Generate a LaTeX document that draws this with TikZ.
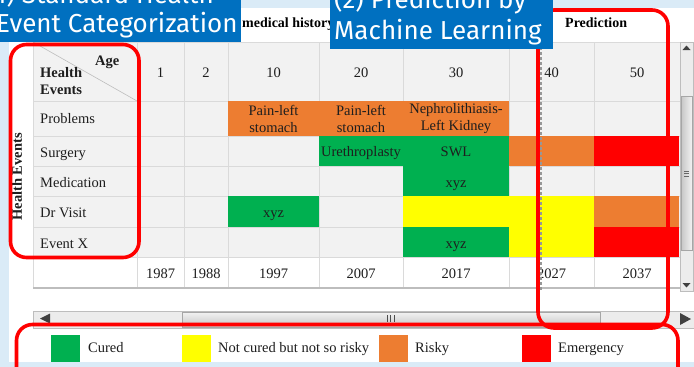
\documentclass[tikz,border=0pt]{standalone}
\usepackage{fontspec}
\setmainfont{Liberation Serif}
\newfontfamily\bannerfont{Fira Sans}
\definecolor{lightbg}{HTML}{DAEBF7}
\definecolor{bannerblue}{HTML}{0070C0}
\definecolor{cellbg}{HTML}{F2F2F2}
\definecolor{gridc}{HTML}{DADADA}
\definecolor{gridd}{HTML}{BDBDBD}
\definecolor{corange}{HTML}{ED7D31}
\definecolor{cgreen}{HTML}{00B050}
\definecolor{cyellow}{HTML}{FFFF00}
\definecolor{cred}{HTML}{FF0000}
\definecolor{hred}{HTML}{FF0000}
\definecolor{txt}{HTML}{1E1E1E}
\definecolor{sbtrack}{HTML}{ECECEC}
\definecolor{sbdark}{HTML}{404040}
\begin{document}
\begin{tikzpicture}[x=1pt,y=-1pt,
  tfont/.style={font=\fontsize{14.5}{17}\selectfont, text=txt, inner sep=0pt},
  celltxt/.style={tfont, align=center, anchor=center},
  onetxt/.style={tfont, anchor=base},
  lbl/.style={tfont, anchor=base west},
  hdr/.style={font=\bfseries\fontsize{14.5}{17}\selectfont, text=txt, inner sep=0pt, anchor=base west},
  hl/.style={draw=hred, line width=3.6pt, rounded corners=16pt},
  btxt/.style={font=\bannerfont\fontsize{26}{30}\selectfont, text=white, inner sep=0pt},
  legsq/.style={minimum width=29pt, minimum height=27pt, inner sep=0pt, anchor=north west},
  legtxt/.style={tfont, anchor=base west}
]
\useasboundingbox (0,0) rectangle (694,367);
\clip (0,0) rectangle (694,367);
% background and panel
\fill[lightbg] (0,0) rectangle (694,367);
\fill[white] (9,8) rectangle (694,362);
% table background
\fill[cellbg] (33,42) rectangle (680,257);
\fill[white] (33,257) rectangle (680,287);
% grid
\foreach \x in {33,137,184,228,319,403,509,594,680} \draw[gridc, line width=0.8pt] (\x,42) -- (\x,287);
\foreach \y in {42,101,136,166,196,227,257} \draw[gridc, line width=0.8pt] (33,\y) -- (680,\y);
\draw[gridd, line width=2pt] (33,288) -- (680,288);
\draw[gridd, line width=0.6pt] (33,42) -- (137,101);
% coloured cells
\fill[corange] (228,101) rectangle (319,136);
\fill[corange] (319,101) rectangle (403,136);
\fill[corange] (403,101) rectangle (509,136);
\fill[cgreen] (319,136) rectangle (403,166);
\fill[cgreen] (403,136) rectangle (509,166);
\fill[corange] (509,136) rectangle (594,166);
\fill[cred] (594,136) rectangle (679,166);
\fill[cgreen] (403,166) rectangle (509,196);
\fill[cgreen] (228,196) rectangle (319,227);
\fill[cyellow] (403,196) rectangle (509,227);
\fill[cyellow] (509,196) rectangle (594,227);
\fill[corange] (594,196) rectangle (679,227);
\fill[cgreen] (403,227) rectangle (509,257);
\fill[cyellow] (509,227) rectangle (594,257);
\fill[cred] (594,227) rectangle (679,257);
% header texts
\node[hdr] (age) at (95,65) {Age};
\node[hdr] (hh) at (40,77) {Health};
\node[hdr] (he) at (40,94) {Events};
\node[onetxt] (a1) at (160.5,77) {1};
\node[onetxt] (a2) at (206,77) {2};
\node[onetxt] (a10) at (273.5,77) {10};
\node[onetxt] (a20) at (361,77) {20};
\node[onetxt] (a30) at (456,77) {30};
\node[onetxt] (a40) at (551.5,77) {40};
\node[onetxt] (a50) at (637,77) {50};
% row labels
\node[lbl] (rp) at (40,123) {Problems};
\node[lbl] (rs) at (40,157) {Surgery};
\node[lbl] (rm) at (40,187) {Medication};
\node[lbl] (rd) at (40,217) {Dr Visit};
\node[lbl] (re) at (40,248) {Event X};
\node[font=\bfseries\fontsize{14.5}{17}\selectfont, text=txt, inner sep=0pt, rotate=90] (hev) at (17,177) {Health Events};
% cell texts
\node[celltxt] (c1) at (273.5,119) {Pain-left\\stomach};
\node[celltxt] (c2) at (361,119) {Pain-left\\stomach};
\node[celltxt] (c3) at (456,119) {Nephrolithiasis-\\Left Kidney};
\node[onetxt] (c4) at (361,156) {Urethroplasty};
\node[onetxt] (c5) at (456,156) {SWL};
\node[onetxt] (c6) at (456,187) {xyz};
\node[onetxt] (c7) at (273.5,217) {xyz};
\node[onetxt] (c8) at (456,248) {xyz};
% years
\node[onetxt] (y1) at (160.5,278) {1987};
\node[onetxt] (y2) at (206,278) {1988};
\node[onetxt] (y3) at (273.5,278) {1997};
\node[onetxt] (y4) at (361,278) {2007};
\node[onetxt] (y5) at (456,278) {2017};
\node[onetxt] (y6) at (551.5,278) {2027};
\node[onetxt] (y7) at (637,278) {2037};
% dashed separator
\draw[gridd!80!black, line width=1.6pt, dash pattern=on 3pt off 2pt] (541,42) -- (541,290);
% vertical scrollbar
\filldraw[fill=sbtrack, draw=gridd, line width=0.6pt] (680,42) rectangle (693,291);
\fill[sbdark] (682.5,50) -- (690.5,50) -- (686.5,45.5) -- cycle;
\shade[left color=gray!45, right color=gray!10, draw=gray!70] (681,96) rectangle (692,250);
\foreach \y in {171,173.5,176} \draw[gray!80!black, line width=0.6pt] (684,\y) -- (689,\y);
\fill[sbdark] (682.5,283) -- (690.5,283) -- (686.5,287.5) -- cycle;
% horizontal scrollbar
\filldraw[fill=sbtrack, draw=gridd, line width=0.6pt] (33,311) rectangle (694,328);
\fill[sbdark] (50,313.5) -- (50,323.5) -- (40,318.5) -- cycle;
\shade[top color=gray!10, bottom color=gray!45, draw=gray!70] (182,312) rectangle (600,327);
\foreach \x in {387,390.5,394} \draw[gray!60!black, line width=1pt] (\x,315) -- (\x,322);
\fill[sbdark] (680,313) -- (680,325) -- (691,319) -- cycle;
% legend
\fill[white] (9,328.5) rectangle (694,362);
\node[legsq, fill=cgreen] (lg) at (51,335) {};
\node[legtxt] (lgt) at (88,352) {Cured};
\node[legsq, fill=cyellow] (ly) at (182,335) {};
\node[legtxt] (lyt) at (218,352) {Not cured but not so risky};
\node[legsq, fill=corange] (lo) at (379,335) {};
\node[legtxt] (lot) at (415,352) {Risky};
\node[legsq, fill=cred] (lr) at (522,335) {};
\node[legtxt] (lrt) at (558,352) {Emergency};
% top titles
\node[font=\bfseries\fontsize{14}{16}\selectfont, text=black, inner sep=0pt, anchor=base west] (mh) at (242,27) {medical history};
\node[font=\bfseries\fontsize{14}{16}\selectfont, text=black, inner sep=0pt, anchor=base west] (pr) at (565,27) {Prediction};
% red highlight frames
\draw[hl] (10.5,44.5) rectangle (139,257.5);
\draw[hl] (538,10) rectangle (668,328);
\draw[hl] (16.5,324.5) rectangle (678,390);
% banners
\fill[bannerblue] (0,0) rectangle (241,42);
\fill[bannerblue] (330,0) rectangle (553,49);
\node[btxt, anchor=base east] (b1a) at (214,3) {(1) Standard Health};
\node[btxt, anchor=base west] (b1b) at (-4,32) {Event Categorization};
\node[btxt, anchor=base west] (b2a) at (334,8) {(2) Prediction by};
\node[btxt, anchor=base west] (b2b) at (334,39) {Machine Learning};
\end{tikzpicture}
\end{document}
